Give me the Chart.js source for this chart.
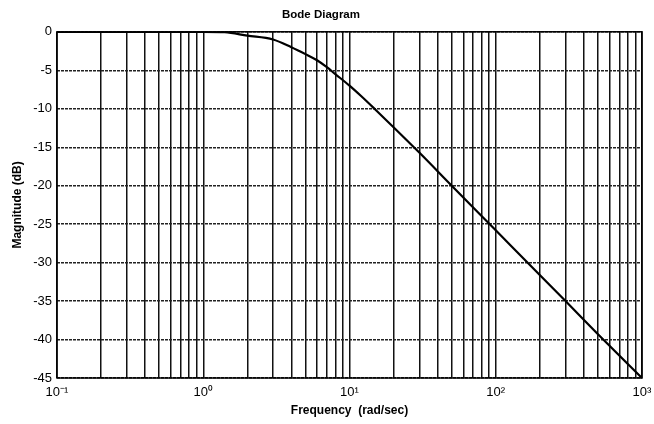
<!DOCTYPE html>
<html>
<head>
<meta charset="utf-8">
<title>Bode Diagram</title>
<script src="https://cdn.jsdelivr.net/npm/chart.js@4/dist/chart.umd.min.js"></script>
<style>
    body { margin: 0; background: #fff; }
    #wrap { width: 654px; height: 424px; }
</style>
</head>
<body>
<div id="wrap"><canvas id="bode-chart" width="654" height="424"></canvas></div>
<script>
// Data
const frequency = [0.1, 1, 1.4, 2, 3, 4, 5, 6, 7, 8, 10, 12, 15, 20, 30, 50, 100, 200, 300, 500, 1000];
const magnitude = [0, 0, -0.05, -0.5, -1.0, -2.0, -2.9, -3.7, -4.6, -5.5, -7.0, -8.35, -10.1, -12.4, -15.7, -20, -25.8, -31.6, -35, -39.3, -45];

// Axis ticks
const decades = [0.1, 1, 10, 100];
const decadeLabels = { 0.1: '10⁻¹', 1: '10⁰', 10: '10¹', 100: '10²', 1000: '10³' };
const magTicks = [0, -5, -10, -15, -20, -25, -30, -35, -40, -45];

const fontFamily = '"Liberation Sans", Arial, Helvetica, sans-serif';

// Box round the plot area
const frameBox = {
    id: 'frameBox',
    afterDatasetsDraw(chart) {
        const a = chart.chartArea;
        const ctx = chart.ctx;
        ctx.save();
        ctx.strokeStyle = '#000';
        ctx.lineWidth = 1.5;
        ctx.strokeRect(a.left, a.top, a.right - a.left, a.bottom - a.top);
        ctx.restore();
    }
};

document.addEventListener('DOMContentLoaded', function() {
    const ctx = document.getElementById('bode-chart').getContext('2d');
    new Chart(ctx, {
        type: 'line',
        data: {
            datasets: [{
                label: 'Magnitude',
                data: frequency.map((f, i) => ({ x: f, y: magnitude[i] })),
                borderColor: '#000',
                borderWidth: 2.2,
                pointRadius: 0,
                cubicInterpolationMode: 'monotone',
                fill: false
            }]
        },
        options: {
            responsive: false,
            animation: false,
            layout: { padding: { left: 0, right: 12, top: 0, bottom: 0 } },
            plugins: {
                legend: { display: false },
                tooltip: { enabled: false },
                title: {
                    display: true,
                    text: 'Bode Diagram',
                    color: '#000',
                    font: { family: fontFamily, size: 11.5, weight: 'bold' },
                    padding: { top: 8, bottom: 10 }
                }
            },
            scales: {
                x: {
                    type: 'logarithmic',
                    min: 0.1,
                    max: 1000,
                    afterBuildTicks(scale) {
                        const ticks = [];
                        decades.forEach(d => {
                            for (let m = 1; m <= 9; m++) ticks.push({ value: +(d * m).toPrecision(3) });
                        });
                        ticks.push({ value: 1000 });
                        scale.ticks = ticks;
                    },
                    afterFit(scale) {
                        scale.height = 46;
                        scale.paddingLeft = 0;
                        scale.paddingRight = 0;
                    },
                    ticks: {
                        autoSkip: false,
                        maxRotation: 0,
                        padding: 7,
                        color: '#000',
                        font: { family: fontFamily, size: 13 },
                        callback: function(value) {
                            return decadeLabels[value] || '';
                        }
                    },
                    grid: {
                        color: '#111',
                        lineWidth: 1.5,
                        drawTicks: false
                    },
                    border: { display: false },
                    title: {
                        display: true,
                        text: 'Frequency  (rad/sec)',
                        color: '#000',
                        font: { family: fontFamily, size: 12, weight: 'bold' },
                        padding: { top: 4, bottom: 6 }
                    }
                },
                y: {
                    min: -45,
                    max: 0,
                    afterBuildTicks(scale) {
                        scale.ticks = magTicks.map(v => ({ value: v }));
                    },
                    afterFit(scale) { scale.width = 57; },
                    ticks: {
                        padding: 5,
                        color: '#000',
                        font: { family: fontFamily, size: 13 }
                    },
                    grid: {
                        color: '#222',
                        lineWidth: 1.4,
                        drawTicks: false
                    },
                    border: { display: false, dash: [3, 1] },
                    title: {
                        display: true,
                        text: 'Magnitude (dB)',
                        color: '#000',
                        font: { family: fontFamily, size: 12, weight: 'bold' },
                        padding: { top: 10, bottom: 0 }
                    }
                }
            }
        },
        plugins: [frameBox]
    });
});
</script>
</body>
</html>
